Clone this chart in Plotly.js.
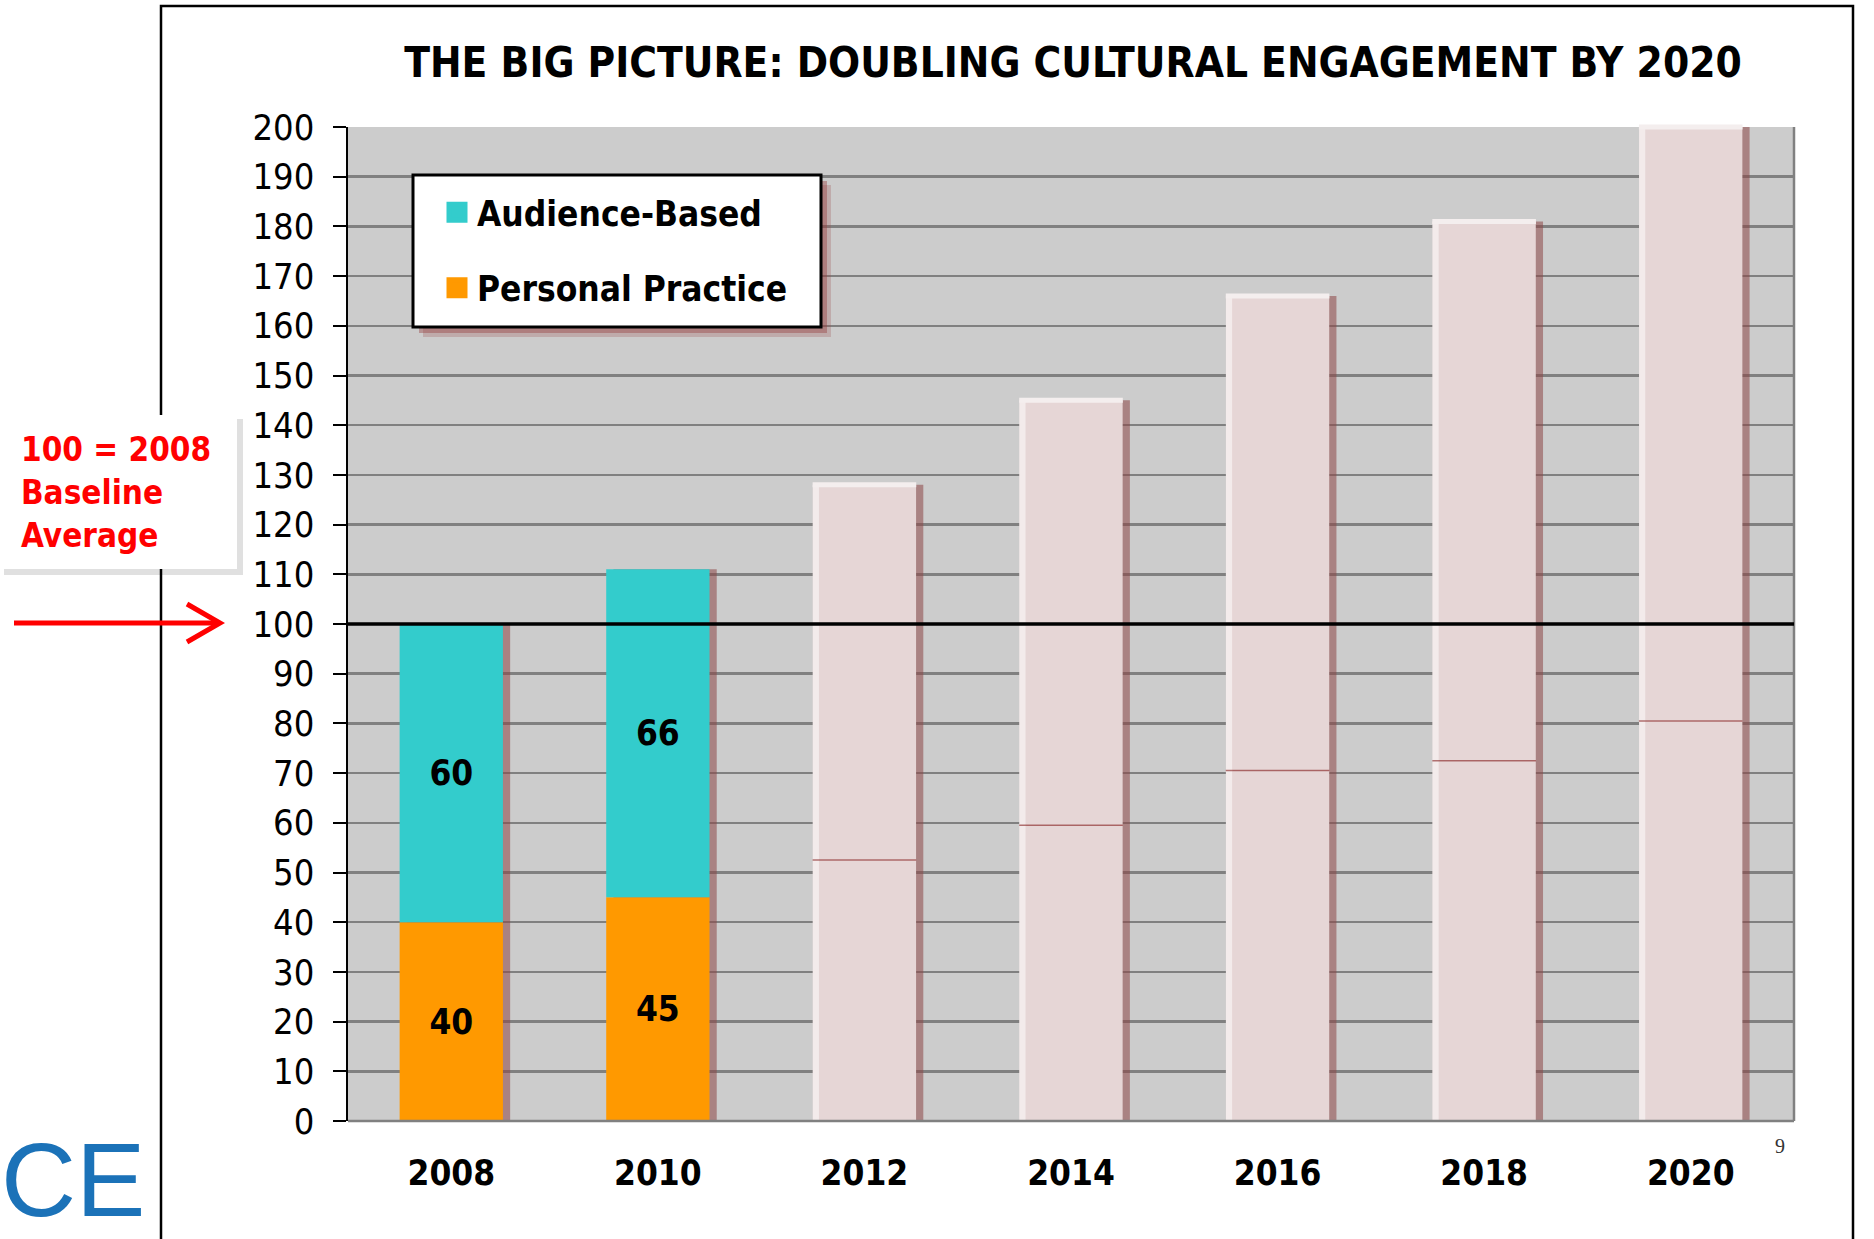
<!DOCTYPE html>
<html><head><meta charset="utf-8">
<script src="https://cdn.plot.ly/plotly-3.0.1.min.js"></script>
<style>html,body{margin:0;padding:0;background:#fff;} #chart{width:1874px;height:1239px;}</style>
</head><body><div id="chart"></div>
<script>
// ---------- data ----------
const years = ['2008', '2010', '2012', '2014', '2016', '2018', '2020'];
const actualYears = ['2008', '2010'];
const personalPractice = [40, 45];
const audienceBased = [60, 66];
const targetYears = ['2012', '2014', '2016', '2018', '2020'];
const targetPersonal = [52.5, 59.5, 70.5, 72.5, 80.5];
const targetTotal = [128, 145, 166, 181, 200];
const yTickValues = [0, 10, 20, 30, 40, 50, 60, 70, 80, 90, 100, 110, 120, 130, 140, 150, 160, 170, 180, 190, 200];
const baselineValue = 100;
const seriesNames = ['Audience-Based', 'Personal Practice'];
const baselineNote = ['100 = 2008', 'Baseline', 'Average'];
const chartTitle = 'THE BIG PICTURE: DOUBLING CULTURAL ENGAGEMENT BY 2020';
const logoText = 'CE';
const pageNumber = '9';

// ---------- geometry helpers ----------
const W = 1874, H = 1239;
const M = {l: 348, r: 80, t: 127, b: 118};
const PW = W - M.l - M.r, PH = H - M.t - M.b;
const px = v => (v - M.l) / PW;
const py = v => (H - M.b - v) / PH;

const FONT = "'DejaVu Sans Condensed', 'Liberation Sans Narrow', 'Roboto Condensed', 'DejaVu Sans', sans-serif";
const TEAL = '#33cccc', ORANGE = '#ff9900', PINK = '#e6d6d6';

const actualTotal = personalPractice.map((v, i) => v + audienceBased[i]);
const allTotals = actualTotal.concat(targetTotal);
const targetUpper = targetTotal.map((v, i) => v - targetPersonal[i]);

const BW = 0.5;
const LINE_SYMBOL = 74; // line-ew length = 1.4*size ~ bar width in px
const traces = [
  // drop shadow
  {type: 'bar', x: years, y: allTotals, width: BW, offset: -BW / 2 + 0.035,
   marker: {color: 'rgba(140,70,70,0.55)'}, showlegend: false, hoverinfo: 'skip'},
  // actual stacked bars
  {type: 'bar', name: seriesNames[1], x: actualYears, y: personalPractice, width: BW, offset: -BW / 2,
   marker: {color: ORANGE}, text: personalPractice.map(String), textposition: 'inside',
   insidetextanchor: 'middle', textangle: 0, constraintext: 'none',
   insidetextfont: {family: FONT, size: 35, weight: 700, color: '#000'}, showlegend: false},
  {type: 'bar', name: seriesNames[0], x: actualYears, y: audienceBased, base: personalPractice, width: BW, offset: -BW / 2,
   marker: {color: TEAL}, text: audienceBased.map(String), textposition: 'inside',
   insidetextanchor: 'middle', textangle: 0, constraintext: 'none',
   insidetextfont: {family: FONT, size: 35, weight: 700, color: '#000'}, showlegend: false},
  // target bars (faded)
  {type: 'bar', x: targetYears, y: targetPersonal, width: BW, offset: -BW / 2,
   marker: {color: PINK}, showlegend: false, hoverinfo: 'skip'},
  {type: 'bar', x: targetYears, y: targetUpper, base: targetPersonal, width: BW, offset: -BW / 2,
   marker: {color: PINK}, showlegend: false, hoverinfo: 'skip'},
  // left highlight of target bars
  {type: 'bar', x: targetYears, y: targetTotal, width: 0.03, offset: -BW / 2,
   marker: {color: 'rgba(248,244,244,0.7)'}, showlegend: false, hoverinfo: 'skip'},
  // top highlight
  {type: 'scatter', mode: 'markers', x: targetYears, y: targetTotal, cliponaxis: false,
   marker: {symbol: 'line-ew-open', size: LINE_SYMBOL, color: 'rgba(244,238,238,1)', line: {width: 5}},
   showlegend: false, hoverinfo: 'skip'},
  // faint split line
  {type: 'scatter', mode: 'markers', x: targetYears, y: targetPersonal,
   marker: {symbol: 'line-ew-open', size: LINE_SYMBOL, color: 'rgba(150,60,60,0.7)', line: {width: 1.5}},
   showlegend: false, hoverinfo: 'skip'},
  // legend entries
  {type: 'scatter', mode: 'markers', x: [null], y: [null], name: seriesNames[0], legendgroup: 'a', legendrank: 1,
   marker: {symbol: 'square', size: 16, color: TEAL, line: {color: TEAL, width: 5}}},
  {type: 'scatter', mode: 'markers', x: [null], y: [null], name: seriesNames[1], legendgroup: 'b', legendrank: 2,
   marker: {symbol: 'square', size: 16, color: ORANGE, line: {color: ORANGE, width: 5}}}
];

const legendBox = {x0: 413, x1: 821, y0: 175, y1: 327};

const shapes = [
  // outer frame
  {type: 'rect', xref: 'paper', yref: 'paper', x0: px(161), x1: px(1853), y0: py(1260), y1: py(6),
   line: {color: '#000', width: 2.5}, fillcolor: 'rgba(0,0,0,0)', layer: 'below'},
  // note box shadow + box
  {type: 'rect', xref: 'paper', yref: 'paper', x0: px(4), x1: px(243), y0: py(575), y1: py(419),
   line: {width: 0}, fillcolor: 'rgba(0,0,0,0.12)', layer: 'below'},
  {type: 'rect', xref: 'paper', yref: 'paper', x0: px(0), x1: px(237), y0: py(569), y1: py(415),
   line: {width: 0}, fillcolor: '#ffffff', layer: 'below'},
  // red arrow
  {type: 'line', xref: 'paper', yref: 'paper', x0: px(14), x1: px(217), y0: py(623), y1: py(623),
   line: {color: '#ff0000', width: 5}, layer: 'above'},
  {type: 'path', xref: 'paper', yref: 'paper',
   path: `M${px(187)},${py(604)} L${px(220)},${py(623)} L${px(187)},${py(642)}`,
   line: {color: '#ff0000', width: 5}, layer: 'above'},
  // plot border right and bottom
  {type: 'line', xref: 'paper', yref: 'paper', x0: 1, x1: 1, y0: 0, y1: 1, line: {color: '#808080', width: 2.5}, layer: 'above'},
  {type: 'line', xref: 'paper', yref: 'paper', x0: 0, x1: 1, y0: 0, y1: 0, line: {color: '#808080', width: 2.5}, layer: 'above'},
  // baseline at 100
  {type: 'line', xref: 'paper', yref: 'y', x0: 0, x1: 1, y0: baselineValue, y1: baselineValue,
   line: {color: '#000', width: 3.5}, layer: 'above'},
  // legend shadow (soft, two layers)
  {type: 'rect', xref: 'paper', yref: 'paper', x0: px(legendBox.x0 + 10), x1: px(legendBox.x1 + 10),
   y0: py(legendBox.y1 + 10), y1: py(legendBox.y0 + 10), line: {width: 0}, fillcolor: 'rgba(150,70,70,0.25)', layer: 'above'},
  {type: 'rect', xref: 'paper', yref: 'paper', x0: px(legendBox.x0 + 6), x1: px(legendBox.x1 + 6),
   y0: py(legendBox.y1 + 6), y1: py(legendBox.y0 + 6), line: {width: 0}, fillcolor: 'rgba(150,60,60,0.4)', layer: 'above'},
  // legend box
  {type: 'rect', xref: 'paper', yref: 'paper', x0: px(legendBox.x0), x1: px(legendBox.x1),
   y0: py(legendBox.y1), y1: py(legendBox.y0), line: {color: '#000', width: 3}, fillcolor: '#ffffff', layer: 'above'}
];

const annotations = [
  {xref: 'paper', yref: 'paper', x: px(19), y: py(492), xanchor: 'left', yanchor: 'middle', align: 'left',
   showarrow: false, text: baselineNote.join('<br>'),
   font: {family: FONT, size: 33, weight: 700, color: '#ff0000'}},
  {xref: 'paper', yref: 'paper', x: px(0), y: py(1239), xanchor: 'left', yanchor: 'bottom', showarrow: false,
   borderpad: 0, text: logoText, font: {family: "'Liberation Sans', Arial, sans-serif", size: 104, color: '#1b72b8'}},
  {xref: 'paper', yref: 'paper', x: px(1780), y: py(1146), xanchor: 'center', yanchor: 'middle', showarrow: false,
   text: pageNumber, font: {family: "'Liberation Serif', serif", size: 20, color: '#333'}}
];

const layout = {
  width: W, height: H, margin: {l: M.l, r: M.r, t: M.t, b: M.b, pad: 0},
  paper_bgcolor: '#ffffff', plot_bgcolor: '#cccccc',
  font: {family: FONT, color: '#000'},
  barmode: 'overlay',
  title: {text: chartTitle, x: px(1073), xref: 'paper', xanchor: 'center', y: 1 - 62 / H, yref: 'container', yanchor: 'middle',
          font: {family: FONT, size: 42, weight: 700, color: '#000'}},
  xaxis: {type: 'category', categoryorder: 'array', categoryarray: years, range: [-0.5, years.length - 0.5],
          showgrid: false, zeroline: false, showline: false, ticks: '', fixedrange: true,
          tickfont: {family: FONT, size: 35, weight: 700, color: '#000'}, ticklabelstandoff: 28},
  yaxis: {range: [0, 200], tickvals: yTickValues, ticks: 'outside', ticklen: 13, tickwidth: 2, tickcolor: '#000',
          showline: true, linecolor: '#000', linewidth: 2.5, gridcolor: '#808080', gridwidth: 2.5, zeroline: false,
          tickfont: {family: FONT, size: 36, color: '#000'}, ticklabelstandoff: 11, fixedrange: true},
  showlegend: true,
  legend: {x: px(legendBox.x0), y: py(183), xanchor: 'left', yanchor: 'top',
           bgcolor: 'rgba(0,0,0,0)', borderwidth: 0, traceorder: 'grouped', tracegroupgap: 27,
           indentation: 24, itemsizing: 'trace',
           font: {family: FONT, size: 35, weight: 700, color: '#000'}},
  shapes: shapes, annotations: annotations
};

Plotly.newPlot('chart', traces, layout, {displayModeBar: false, staticPlot: true});
</script>
</body></html>
